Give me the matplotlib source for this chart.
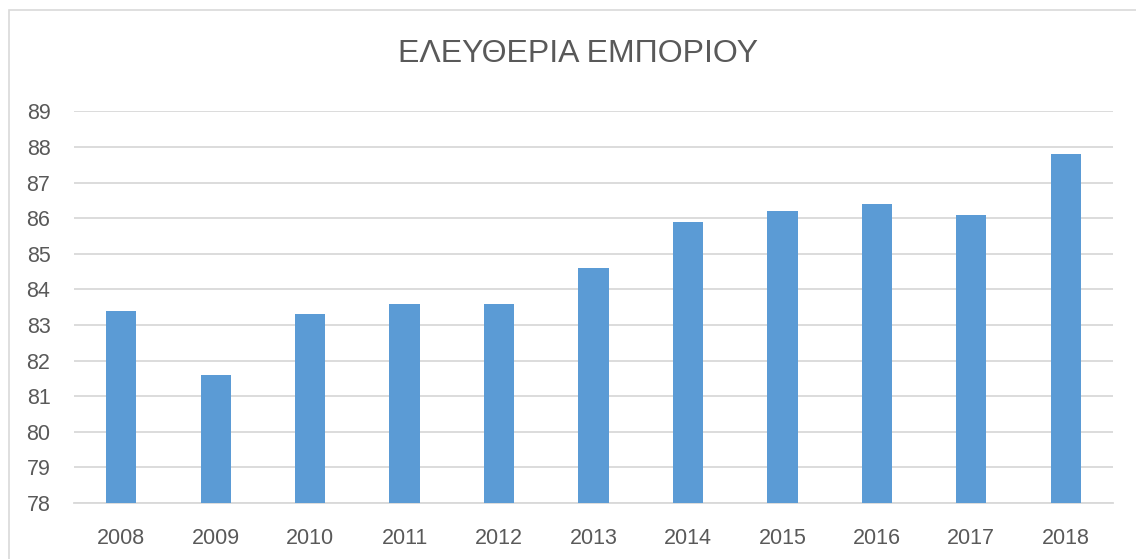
import matplotlib
matplotlib.use("Agg")
import matplotlib.pyplot as plt
from matplotlib.patches import Rectangle

years = ["2008", "2009", "2010", "2011", "2012", "2013", "2014", "2015", "2016", "2017", "2018"]
values = [83.4, 81.6, 83.3, 83.6, 83.6, 84.6, 85.9, 86.2, 86.4, 86.1, 87.8]
y_ticks = list(range(78, 90))
title = "ΕΛΕΥΘΕΡΙΑ ΕΜΠΟΡΙΟΥ"

plt.rcParams['font.family'] = ['Liberation Sans', 'DejaVu Sans']
text_color = "#595959"
bar_color = "#5B9BD5"
grid_color = "#D9D9D9"

fig = plt.figure(figsize=(11.36, 5.59), dpi=100)
fig.patch.set_facecolor("white")

# chart frame
fig.add_artist(Rectangle((9 / 1136, -0.01), 1.02, 1 - 10 / 559 + 0.01,
                         transform=fig.transFigure, fill=False,
                         edgecolor="#D9D9D9", linewidth=1.2))

ax = fig.add_axes([74 / 1136, 1 - 503 / 559, (1113 - 74) / 1136, (503 - 111.3) / 559])
x = list(range(len(years)))
ax.bar(x, [v - 78 for v in values], bottom=78, width=0.32, color=bar_color, zorder=3)

ax.set_xlim(-0.5, len(years) - 0.5)
ax.set_ylim(78, 89)
ax.set_yticks(y_ticks)
ax.set_yticklabels([str(t) for t in y_ticks])
ax.set_xticks(x)
ax.set_xticklabels(years)
ax.yaxis.grid(True, color=grid_color, linewidth=1.3, zorder=0)
ax.set_axisbelow(True)
for side in ["top", "right", "left"]:
    ax.spines[side].set_visible(False)
ax.spines["bottom"].set_color(grid_color)
ax.spines["bottom"].set_linewidth(1.3)
ax.tick_params(axis="both", length=0, labelsize=15.5, colors=text_color)
ax.tick_params(axis="y", pad=17)
ax.tick_params(axis="x", pad=18)

fig.text(578 / 1136, 1 - 54 / 559, title, ha="center", va="center",
         fontsize=23, color=text_color)

fig.savefig("out.png", dpi=100, facecolor="white")
